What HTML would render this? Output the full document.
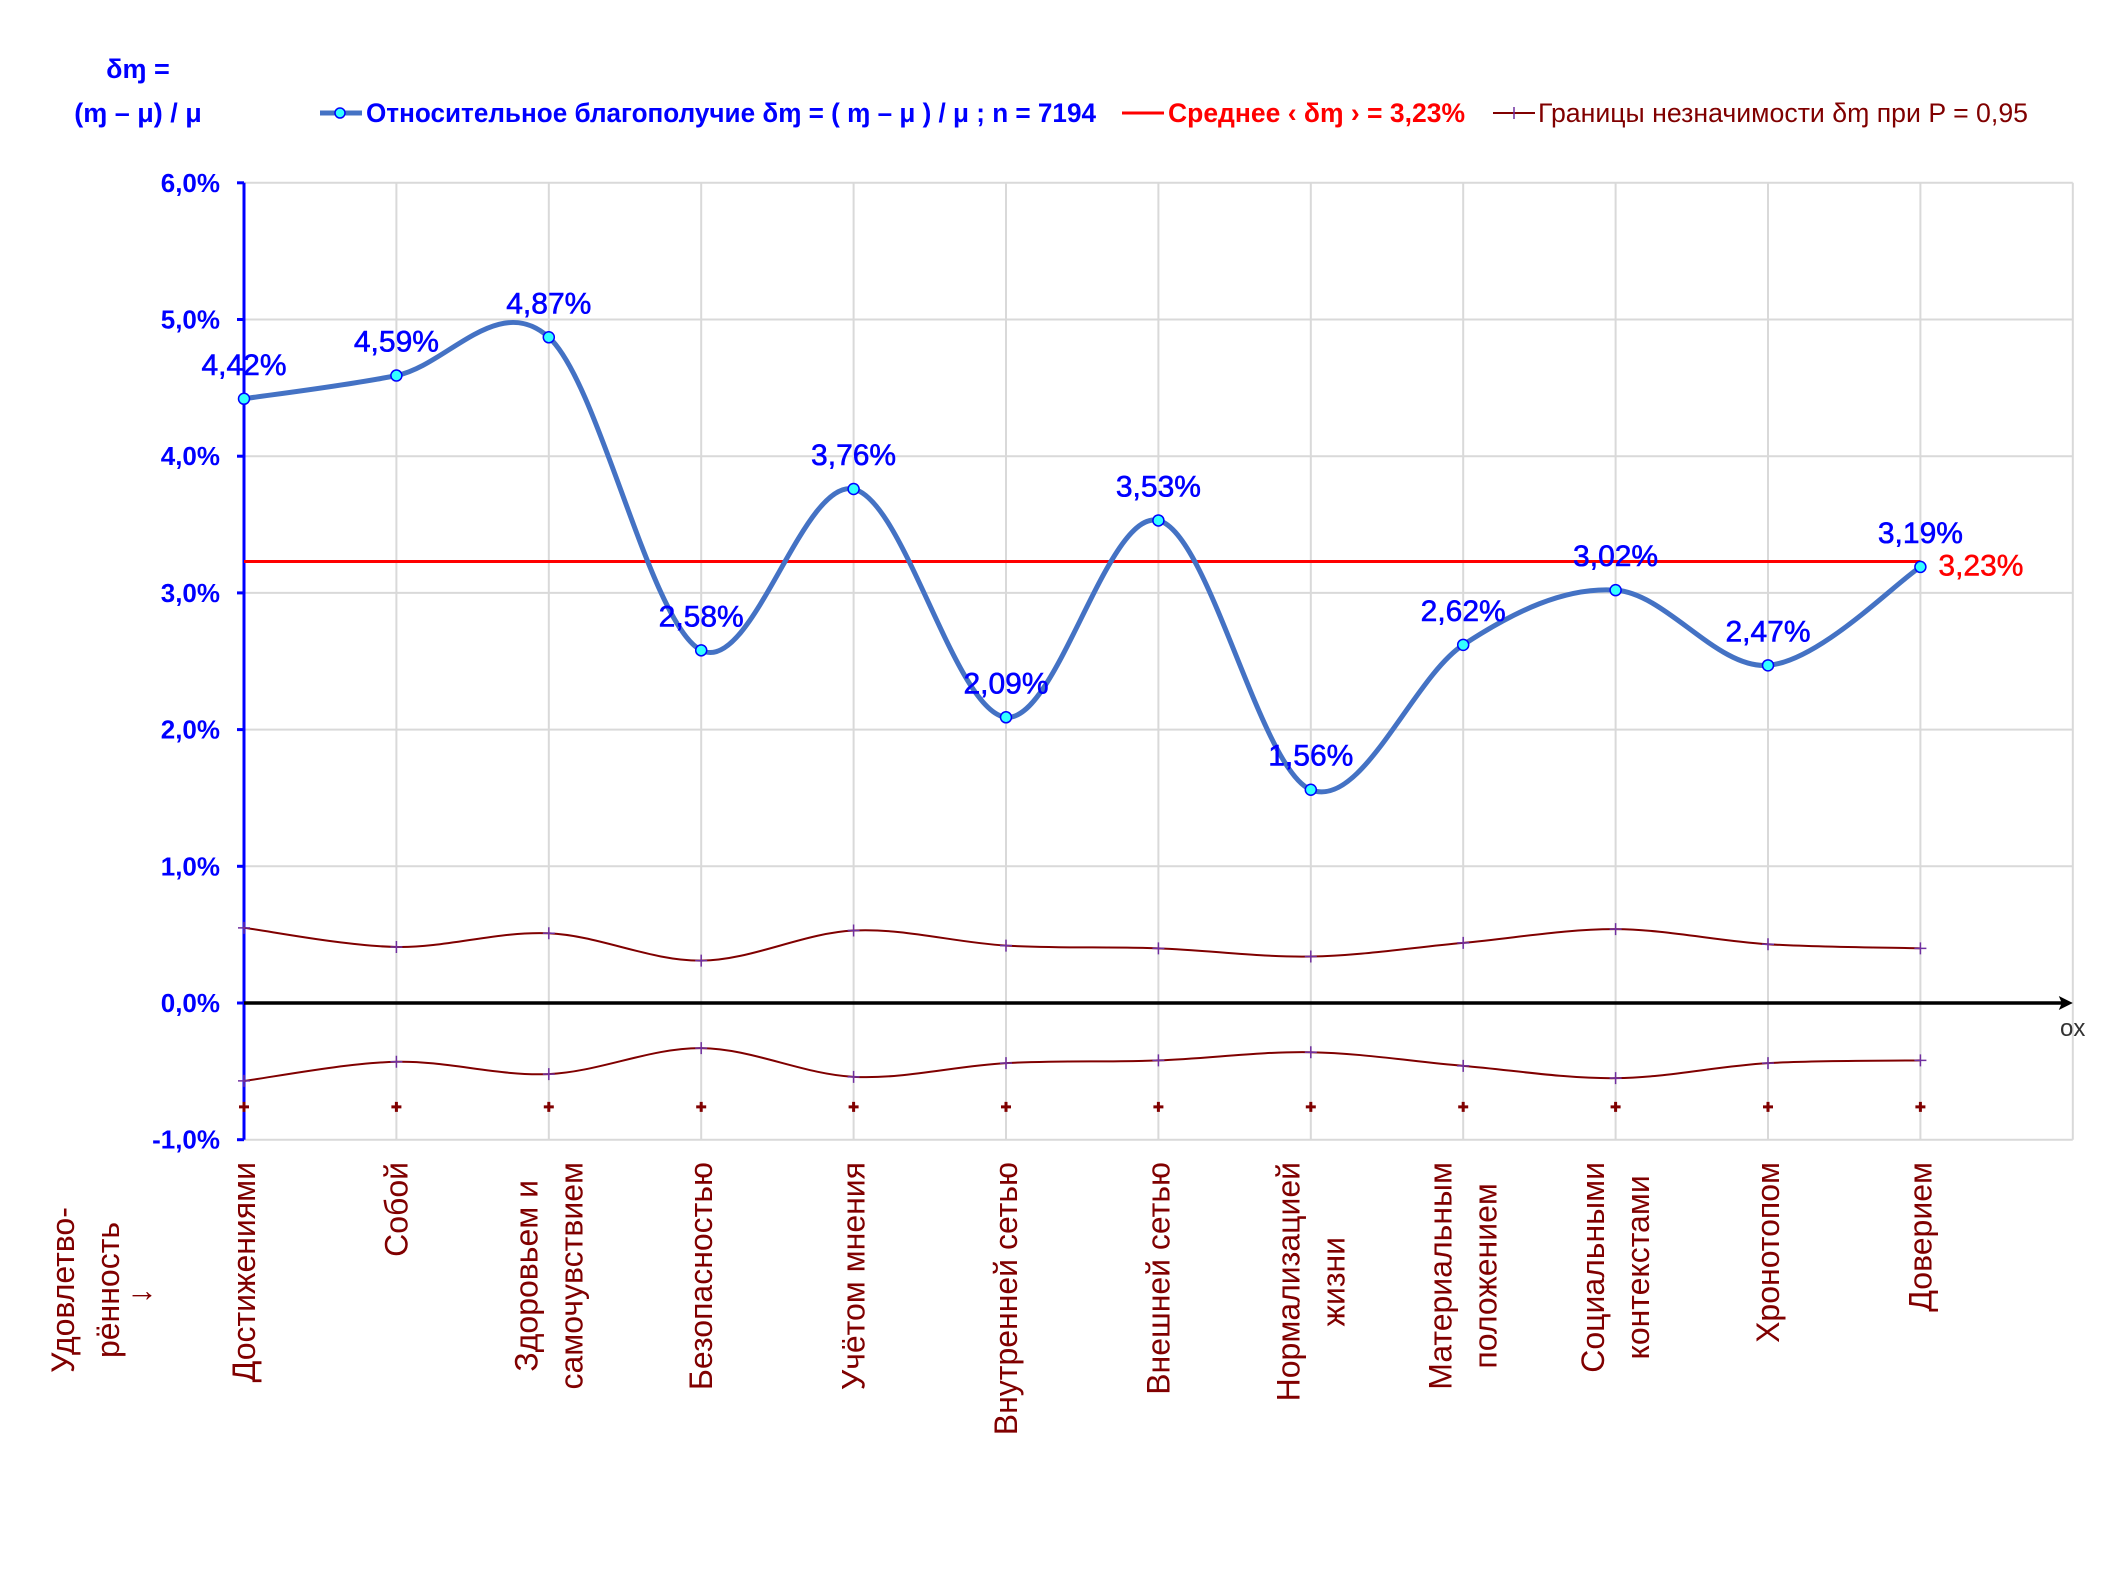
<!DOCTYPE html>
<html><head><meta charset="utf-8"><style>
html,body{margin:0;padding:0;background:#fff;}
svg{display:block;font-family:"Liberation Sans",sans-serif;}
</style></head><body>
<svg id="chart" xmlns="http://www.w3.org/2000/svg" width="2104" height="1571" viewBox="0 0 2104 1571">
<g id="grid"></g>
<g id="axes"></g>
<g id="series"></g>
<g id="labels"></g>
<g fill="#0000ff" font-weight="bold" font-size="27" text-anchor="middle">
<text x="138" y="78">δɱ =</text>
<text x="138" y="122">(ɱ – μ) / μ</text>
</g>
<g font-size="27">
<g>
<line x1="320" y1="113" x2="362" y2="113" stroke="#4472c4" stroke-width="5"/>
<circle cx="340" cy="113" r="5" fill="#33ffff" stroke="#0000ff" stroke-width="1.5"/>
<text x="366" y="122" fill="#0000ff" font-weight="bold" textLength="730" lengthAdjust="spacingAndGlyphs">Относительное благополучие δɱ = ( ɱ – μ ) / μ ; n = 7194</text>
</g>
<g>
<line x1="1122" y1="113" x2="1164" y2="113" stroke="#ff0000" stroke-width="3"/>
<text x="1168" y="122" fill="#ff0000" font-weight="bold" textLength="297" lengthAdjust="spacingAndGlyphs">Среднее ‹ δɱ › = 3,23%</text>
</g>
<g>
<line x1="1493" y1="113" x2="1535" y2="113" stroke="#800000" stroke-width="2"/>
<line x1="1514" y1="107" x2="1514" y2="119" stroke="#7030a0" stroke-width="1.5"/>
<text x="1538" y="122" fill="#800000" textLength="490" lengthAdjust="spacingAndGlyphs">Границы незначимости δɱ при P = 0,95</text>
</g>
</g>
<g fill="#800000" font-size="32">
<text transform="translate(74,1290) rotate(-90)" text-anchor="middle">Удовлетво-</text>
<text transform="translate(119,1290) rotate(-90)" text-anchor="middle">рённость</text>
<text x="142" y="1301" text-anchor="middle">→</text>
</g>
<text x="2060" y="1036" font-size="24" fill="#333">ox</text>
</svg>
<script>
const categories = [["Достижениями"],["Собой"],["Здоровьем и","самочувствием"],["Безопасностью"],["Учётом мнения"],["Внутренней сетью"],["Внешней сетью"],["Нормализацией","жизни"],["Материальным","положением"],["Социальными","контекстами"],["Хронотопом"],["Доверием"]];
const values = [4.42,4.59,4.87,2.58,3.76,2.09,3.53,1.56,2.62,3.02,2.47,3.19];
const valueLabels = ["4,42%","4,59%","4,87%","2,58%","3,76%","2,09%","3,53%","1,56%","2,62%","3,02%","2,47%","3,19%"];
const meanValue = 3.23;
const meanLabel = "3,23%";
const upperBound = [0.55,0.41,0.51,0.31,0.53,0.42,0.40,0.34,0.44,0.54,0.43,0.40];
const lowerBound = [-0.57,-0.43,-0.52,-0.33,-0.54,-0.44,-0.42,-0.36,-0.46,-0.55,-0.44,-0.42];
const bottomMarks = [-0.76,-0.76,-0.76,-0.76,-0.76,-0.76,-0.76,-0.76,-0.76,-0.76,-0.76,-0.76];
const yTicks = [6,5,4,3,2,1,0,-1];
const yTickLabels = ["6,0%","5,0%","4,0%","3,0%","2,0%","1,0%","0,0%","-1,0%"];

const NS="http://www.w3.org/2000/svg";
const X0=244, STEP=152.4, XR=X0+12*STEP, Y0=1003, YU=136.7;
const x=i=>X0+i*STEP;
const y=v=>Y0-v*YU;
function mk(tag,attrs,parent){const e=document.createElementNS(NS,tag);for(const k in attrs)e.setAttribute(k,attrs[k]);parent.appendChild(e);return e;}
function smooth(vals){
  const p=vals.map((v,i)=>[x(i),y(v)]);
  let d="M"+p[0][0]+","+p[0][1];
  for(let i=0;i<p.length-1;i++){
    const p0=p[i-1]||p[i],p1=p[i],p2=p[i+1],p3=p[i+2]||p[i+1];
    const c1=[p1[0]+(p2[0]-p0[0])/6,p1[1]+(p2[1]-p0[1])/6];
    const c2=[p2[0]-(p3[0]-p1[0])/6,p2[1]-(p3[1]-p1[1])/6];
    d+=" C"+c1+" "+c2+" "+p2;
  }
  return d;
}
const grid=document.getElementById('grid'),axes=document.getElementById('axes'),series=document.getElementById('series'),labels=document.getElementById('labels');
yTicks.forEach((t,i)=>{
  const l=mk('line',{x1:X0,x2:XR,y1:y(t),y2:y(t),stroke:'#d9d9d9','stroke-width':2},grid);
  
  
  const tk=mk('line',{x1:X0-7,x2:X0,y1:y(t),y2:y(t),stroke:'#0000ff','stroke-width':3},axes);
  
  
  const tx=mk('text',{x:220,y:y(t)+9,'text-anchor':'end',fill:'#0000ff','font-size':26,'font-weight':'bold'},labels);
  tx.textContent=yTickLabels[i];
  
  
});
for(let i=0;i<=categories.length;i++){
  const l=mk('line',{x1:x(i),x2:x(i),y1:y(6),y2:y(-1),stroke:'#d9d9d9','stroke-width':2},grid);
  
  
}
const ya=mk('line',{x1:X0,x2:X0,y1:y(6),y2:y(-1),stroke:'#0000ff','stroke-width':3},axes);


const xa=mk('line',{x1:X0,x2:XR-8,y1:y(0),y2:y(0),stroke:'#000','stroke-width':3.5},axes);


const ah=mk('path',{d:`M${XR},${y(0)} l-14,-7 l3,7 l-3,7 z`,fill:'#000'},axes);



[upperBound,lowerBound].forEach((arr,k)=>{
  const p=mk('path',{d:smooth(arr),fill:'none',stroke:'#800000','stroke-width':2},series);
  
  
  arr.forEach((v,i)=>{
    const m=mk('path',{d:`M${x(i)-6},${y(v)} h12 M${x(i)},${y(v)-6} v12`,stroke:'#7030a0','stroke-width':1.5},series);
    
    
  });
});
bottomMarks.forEach((v,i)=>{
  const m=mk('path',{d:`M${x(i)-5},${y(v)} h10 M${x(i)},${y(v)-5} v10`,stroke:'#800000','stroke-width':3},series);
  
  
});
const ml=mk('line',{x1:x(0),x2:x(values.length-1),y1:y(meanValue),y2:y(meanValue),stroke:'#ff0000','stroke-width':3},series);


const mt=mk('text',{x:x(values.length-1)+18,y:y(meanValue)+14,fill:'#ff0000','font-size':30,stroke:'#ff0000','stroke-width':0.5},labels);
mt.textContent=meanLabel;



const mainLine=mk('path',{d:smooth(values),fill:'none',stroke:'#4472c4','stroke-width':5},series);


values.forEach((v,i)=>{
  const c=mk('circle',{cx:x(i),cy:y(v),r:5.5,fill:'#33ffff',stroke:'#0000ff','stroke-width':1.5},series);
  
  
  const t=mk('text',{x:x(i),y:y(v)-24,'text-anchor':'middle',fill:'#0000ff','font-size':30,stroke:'#0000ff','stroke-width':0.6},labels);
  t.textContent=valueLabels[i];
  
  
});
categories.forEach((lines,i)=>{
  const g=mk('g',{fill:'#800000','font-size':32},labels);
  
  
  const n=lines.length;
  const els=lines.map((s,j)=>{
    const cx=x(i)+(j-(n-1)/2)*45+11;
    const t=mk('text',{'text-anchor':'middle',transform:`translate(${cx},1300) rotate(-90)`},g);
    t.textContent=s;t._cx=cx;return t;
  });
  const maxW=Math.max(...els.map(e=>e.getComputedTextLength()));
  const cy=1162+maxW/2;
  els.forEach(e=>e.setAttribute('transform',`translate(${e._cx},${cy}) rotate(-90)`));
});
</script>
</body></html>
